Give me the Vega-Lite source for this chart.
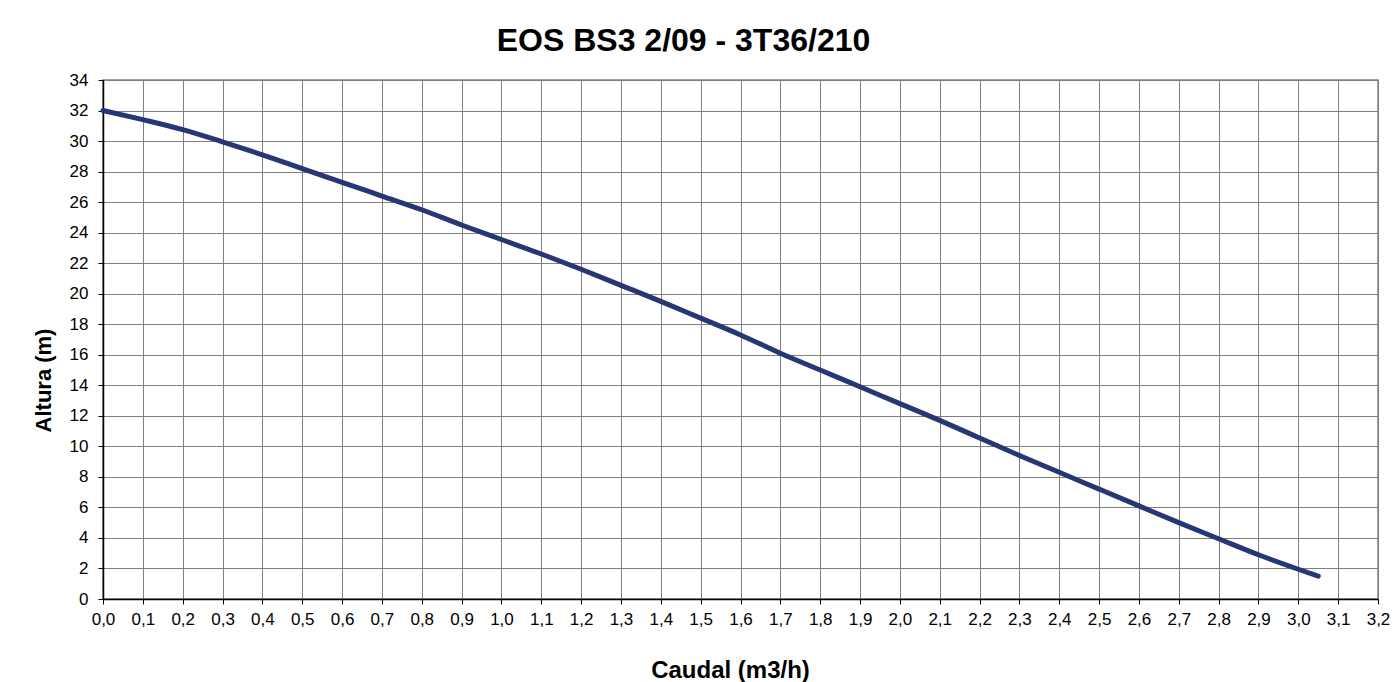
{
  "$schema": "https://vega.github.io/schema/vega-lite/v6.json",
  "width": 1275,
  "height": 519,
  "autosize": "none",
  "padding": {"left": 103, "top": 80, "right": 22, "bottom": 83},
  "background": "white",
  "title": {
    "text": "EOS BS3 2/09 - 3T36/210",
    "font": "Liberation Sans",
    "fontSize": 32,
    "fontWeight": "bold",
    "color": "black",
    "anchor": "middle",
    "dx": -57,
    "offset": 13
  },
  "config": {
    "view": {"stroke": "#808080", "strokeWidth": 1.5},
    "axis": {
      "labelFont": "Liberation Sans",
      "labelFontSize": 17,
      "labelColor": "black",
      "titleFont": "Liberation Sans",
      "titleFontWeight": "bold",
      "titleColor": "black",
      "gridColor": "#808080",
      "gridOpacity": 1,
      "gridWidth": 1,
      "domainColor": "black",
      "domainWidth": 1.5,
      "tickColor": "black",
      "tickSize": 5
    }
  },
  "data": {
    "values": [
      {"q": 0.0, "h": 32.0},
      {"q": 0.1, "h": 31.4},
      {"q": 0.2, "h": 30.75},
      {"q": 0.3, "h": 29.95},
      {"q": 0.4, "h": 29.1},
      {"q": 0.5, "h": 28.2},
      {"q": 0.6, "h": 27.3},
      {"q": 0.7, "h": 26.4},
      {"q": 0.8, "h": 25.5},
      {"q": 0.9, "h": 24.5},
      {"q": 1.0, "h": 23.55},
      {"q": 1.1, "h": 22.6},
      {"q": 1.2, "h": 21.6},
      {"q": 1.3, "h": 20.55},
      {"q": 1.4, "h": 19.5},
      {"q": 1.5, "h": 18.4},
      {"q": 1.6, "h": 17.3},
      {"q": 1.7, "h": 16.1},
      {"q": 1.8, "h": 15.0},
      {"q": 1.9, "h": 13.9},
      {"q": 2.0, "h": 12.8},
      {"q": 2.1, "h": 11.7},
      {"q": 2.2, "h": 10.55},
      {"q": 2.3, "h": 9.4},
      {"q": 2.4, "h": 8.3},
      {"q": 2.5, "h": 7.2},
      {"q": 2.6, "h": 6.1},
      {"q": 2.7, "h": 5.0},
      {"q": 2.8, "h": 3.95},
      {"q": 2.9, "h": 2.9},
      {"q": 3.0, "h": 1.95},
      {"q": 3.05, "h": 1.5}
    ]
  },
  "mark": {"type": "line", "color": "#283673", "strokeWidth": 5, "strokeCap": "round", "interpolate": "monotone"},
  "encoding": {
    "x": {
      "field": "q",
      "type": "quantitative",
      "scale": {"domain": [0, 3.2], "nice": false},
      "axis": {
        "title": "Caudal (m3/h)",
        "titleFontSize": 24,
        "values": [0,0.1,0.2,0.3,0.4,0.5,0.6,0.7,0.8,0.9,1.0,1.1,1.2,1.3,1.4,1.5,1.6,1.7,1.8,1.9,2.0,2.1,2.2,2.3,2.4,2.5,2.6,2.7,2.8,2.9,3.0,3.1,3.2],
        "labelExpr": "replace(format(datum.value, '.1f'), '.', ',')",
        "labelPadding": 7,
        "labelFlush": false,
        "labelOverlap": false,
        "titlePadding": 31,
        "titleX": 627
      }
    },
    "y": {
      "field": "h",
      "type": "quantitative",
      "scale": {"domain": [0, 34], "nice": false},
      "axis": {
        "title": "Altura (m)",
        "titleFontSize": 22,
        "values": [0,2,4,6,8,10,12,14,16,18,20,22,24,26,28,30,32,34],
        "labelPadding": 10,
        "titlePadding": 14,
        "titleY": 300,
        "labelFlush": false,
        "labelOverlap": false
      }
    }
  }
}
